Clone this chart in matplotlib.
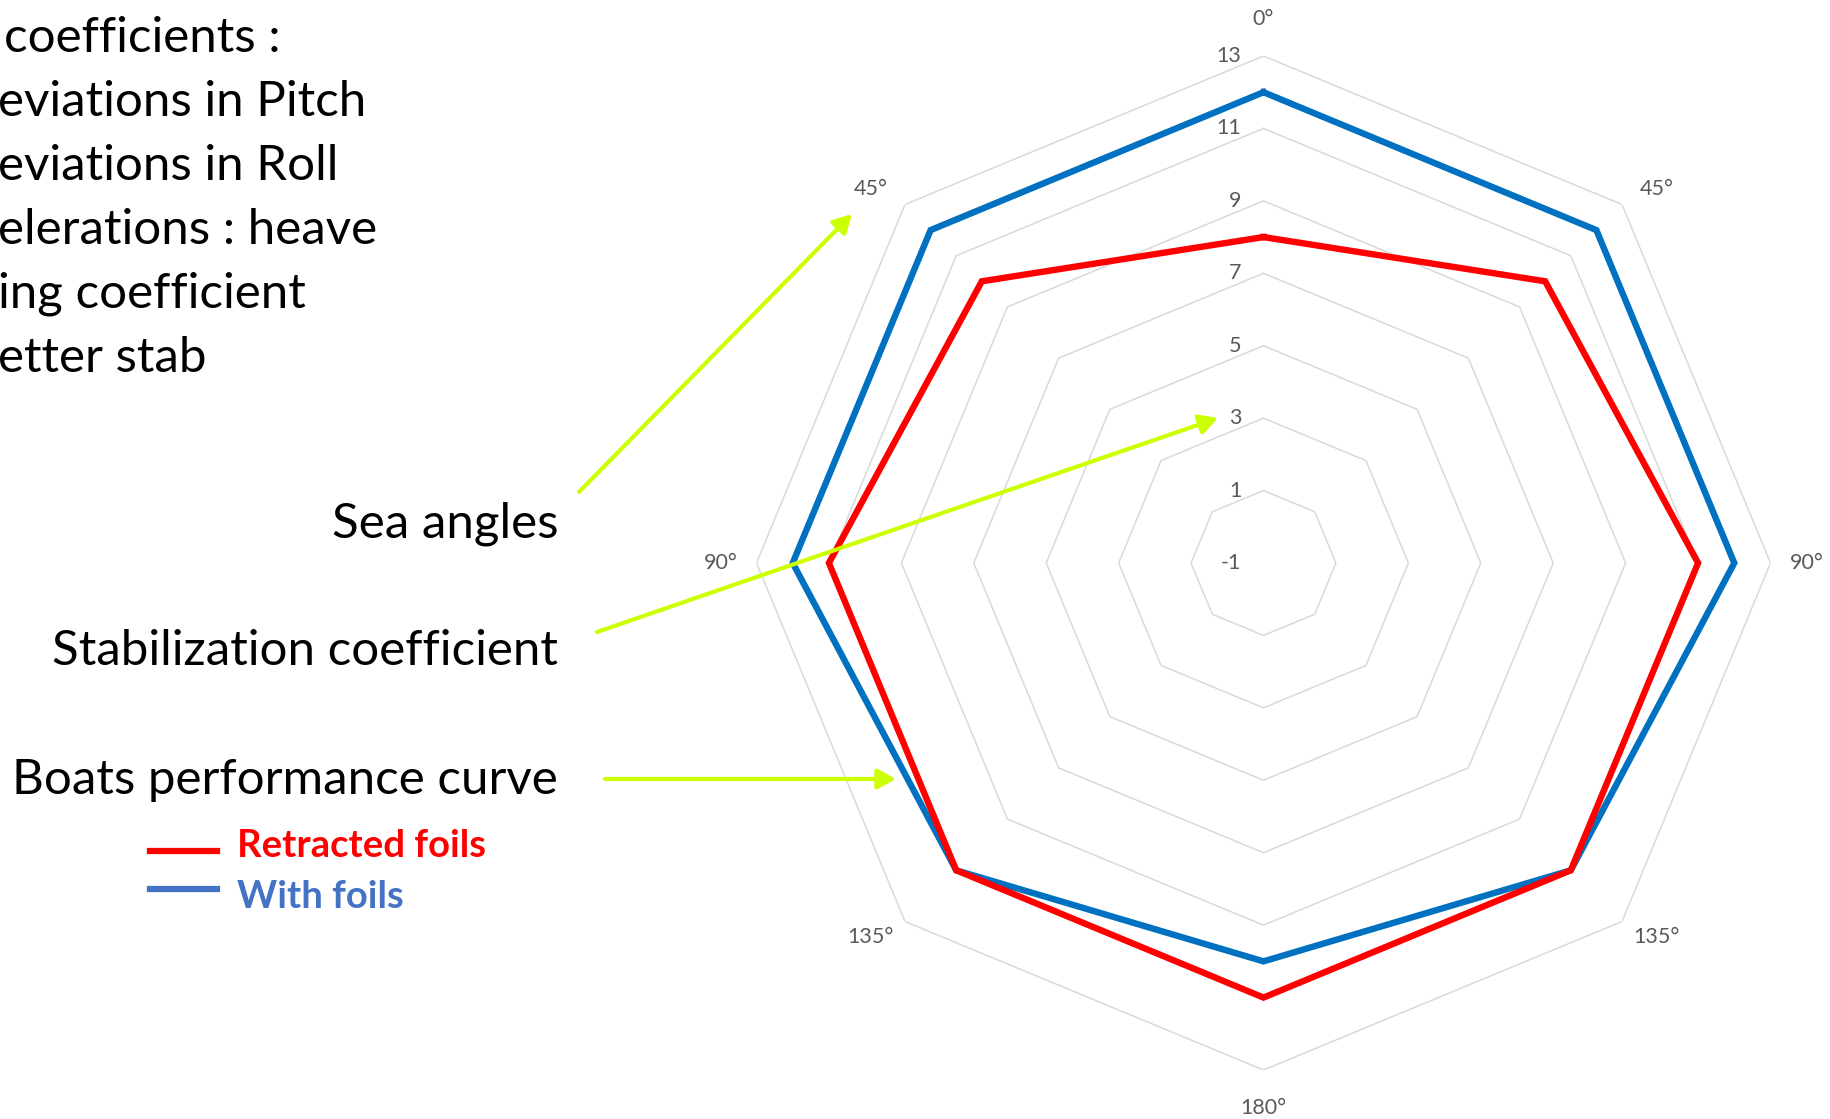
import numpy as np
import matplotlib
matplotlib.use("Agg")
import matplotlib.pyplot as plt
from matplotlib.patches import FancyArrowPatch
from matplotlib.lines import Line2D

plt.rcParams['font.family'] = ['Lato', 'DejaVu Sans']

# radar data: stabilization coefficient per sea angle
sea_angles = ['0°', '45°', '90°', '135°', '180°', '135°', '90°', '45°']
retracted = [8, 10, 11, 11, 11, 11, 11, 10]
with_foils = [12, 12, 12, 11, 10, 11, 12, 12]
ring_values = [1, 3, 5, 7, 9, 11, 13]
tick_values = [-1, 1, 3, 5, 7, 9, 11, 13]

notes = ['coefficients :', 'eviations in Pitch', 'eviations in Roll',
         'elerations : heave', 'ing coefficient', 'etter stab']
callouts = ['Sea angles', 'Stabilization coefficient', 'Boats performance curve']

RED = '#FF0000'
BLUE = '#0070C0'
LEG_BLUE = '#4472C4'
GRID = '#D9D9D9'
LABEL = '#595959'
ARROW = '#CCFF00'

W, H = 1831, 1119
fig = plt.figure(figsize=(W / 100, H / 100), dpi=100)


def fx(px):
    return px / W


def fy(py):
    return 1 - py / H


# polar axes centred on the chart, radius ~507 px
cx, cy, rad = 1263.5, 563, 507
ax = fig.add_axes([fx(cx - rad), fy(cy + rad), 2 * rad / W, 2 * rad / H], projection='polar')
ax.set_theta_zero_location('N')
ax.set_theta_direction(-1)
ax.set_ylim(-1, 13)
ax.axis('off')

theta = np.deg2rad(np.arange(len(sea_angles)) * 360 / len(sea_angles))
theta_c = np.append(theta, theta[0])

for r in ring_values:
    ax.plot(theta_c, [r] * len(theta_c), color=GRID, lw=1.1, zorder=1)

for v in tick_values:
    ax.annotate(str(v), xy=(0, v), xytext=(-16, 0), textcoords='offset points',
                ha='right', va='center', fontsize=15.5, color=LABEL)

# angle labels sit just outside each outer vertex (offsets in points)
for t, lab in zip(theta, sea_angles):
    s, c = np.sin(t), np.cos(t)
    if abs(s) < 0.1:
        off = (0, 27 if c > 0 else -27)
    elif abs(c) < 0.1:
        off = (26 if s > 0 else -26, 0)
    else:
        off = (25 * np.sign(s), 11 * np.sign(c))
    ax.annotate(lab, xy=(t, 13), xytext=off, textcoords='offset points',
                ha='center', va='center', fontsize=15.5, color=LABEL)

ax.plot(theta_c, np.append(with_foils, with_foils[0]), color=BLUE, lw=4.6,
        solid_joinstyle='miter', zorder=3)
ax.plot(theta_c, np.append(retracted, retracted[0]), color=RED, lw=4.6,
        solid_joinstyle='miter', zorder=4)

# left-hand notes, clipped at the figure edge
for i, line in enumerate(notes):
    x = 4 if i == 0 else -2
    fig.text(fx(x), fy(52 + 64 * i), line, fontsize=35.5, color='black',
             ha='left', va='baseline')

for text, y in zip(callouts, [537, 665, 794]):
    fig.text(fx(558), fy(y), text, fontsize=35.5, color='black', ha='right', va='baseline')

# arrows pointing into the chart
arrows = [((579, 492), (852, 214)), ((597, 632), (1218, 418)), ((605, 779), (896, 779))]
for (x0, y0), (x1, y1) in arrows:
    fig.add_artist(FancyArrowPatch((fx(x0), fy(y0)), (fx(x1), fy(y1)),
                                   transform=fig.transFigure,
                                   arrowstyle='-|>,head_length=0.55,head_width=0.3',
                                   mutation_scale=20, color=ARROW, lw=3,
                                   shrinkA=0, shrinkB=0))

# legend
fig.add_artist(Line2D([fx(150), fx(217)], [fy(851), fy(851)], color=RED, lw=4.5,
                      transform=fig.transFigure))
fig.add_artist(Line2D([fx(150), fx(217)], [fy(889), fy(889)], color=LEG_BLUE, lw=4.5,
                      transform=fig.transFigure))
fig.text(fx(237), fy(846), 'Retracted foils', fontsize=27.5, fontweight='bold',
         color=RED, ha='left', va='center')
fig.text(fx(237), fy(897), 'With foils', fontsize=27.5, fontweight='bold',
         color=LEG_BLUE, ha='left', va='center')

fig.savefig('out.png', dpi=100, facecolor='white')
